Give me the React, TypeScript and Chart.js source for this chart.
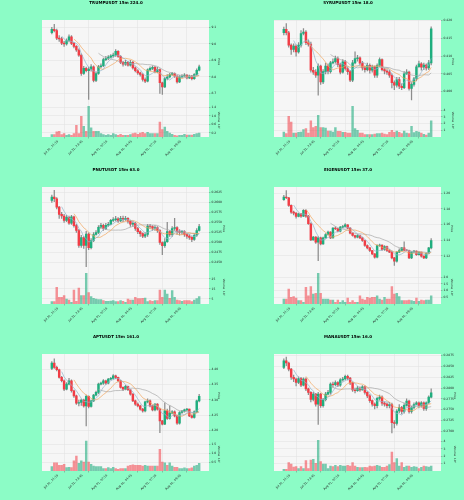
import React, { useEffect, useRef } from 'react';
import { Chart, registerables } from 'chart.js';
Chart.register(...registerables);

const FIG_BG = '#8cfcc6';
const PLOT_BG = '#f6f6f6';
const GRID = '#e0e0e0';
const UP = '#1fae7e';
const DOWN = '#f23c45';
const UP_VOL = 'rgba(31,174,126,0.6)';
const DOWN_VOL = 'rgba(242,60,69,0.55)';
const WICK = '#8c8c8c';
const MA_COLORS = ['#93b4cc', '#f2a65e', '#a8a8a8'];
const MA_PERIODS = [5, 10, 20];
const FONT = 'DejaVu Sans';

const TIME_LABELS = ['Jul 31, 21:15', 'Jul 31, 23:45', 'Aug 01, 02:15', 'Aug 01, 04:45', 'Aug 01, 07:15', 'Aug 01, 09:45'];
const TIME_TICK_INDEX = [0, 10, 20, 30, 40, 50];

// ---------------- TRUMP ----------------
const TRUMP_OPEN0 = 9.068;
const TRUMP_CLOSE = [9.088, 9.080, 9.035, 9.030, 9.005, 9.000, 9.020, 9.043, 9.003, 8.985,
  8.963, 8.932, 8.821, 8.852, 8.838, 8.848, 8.862, 8.780, 8.821, 8.862,
  8.868, 8.905, 8.912, 8.920, 8.928, 8.932, 8.955, 8.925, 8.888, 8.878,
  8.888, 8.872, 8.888, 8.855, 8.838, 8.825, 8.815, 8.785, 8.775, 8.843,
  8.852, 8.858, 8.832, 8.845, 8.765, 8.740, 8.790, 8.800, 8.815, 8.820,
  8.805, 8.770, 8.800, 8.806, 8.812, 8.795, 8.805, 8.790, 8.815, 8.841, 8.862];
const TRUMP_HIGH = [9.100, 9.118, 9.090, 9.050, 9.040, 9.015, 9.030, 9.055, 9.050, 9.010,
  8.990, 8.970, 8.940, 8.865, 8.860, 8.860, 8.875, 8.868, 8.830, 8.870,
  8.880, 8.915, 8.925, 8.930, 8.935, 8.945, 8.965, 8.960, 8.930, 8.895,
  8.900, 8.895, 8.900, 8.895, 8.862, 8.845, 8.830, 8.820, 8.795, 8.850,
  8.862, 8.868, 8.865, 8.858, 8.850, 8.770, 8.800, 8.815, 8.822, 8.828,
  8.825, 8.808, 8.808, 8.815, 8.820, 8.815, 8.812, 8.810, 8.820, 8.850, 8.872];
const TRUMP_LOW = [9.060, 9.072, 9.025, 9.015, 8.995, 8.985, 8.992, 9.012, 8.995, 8.975,
  8.955, 8.925, 8.810, 8.815, 8.830, 8.665, 8.835, 8.770, 8.772, 8.815,
  8.855, 8.862, 8.898, 8.905, 8.915, 8.920, 8.925, 8.918, 8.880, 8.865,
  8.870, 8.865, 8.866, 8.848, 8.830, 8.815, 8.805, 8.775, 8.765, 8.770,
  8.838, 8.845, 8.825, 8.825, 8.700, 8.695, 8.735, 8.782, 8.795, 8.810,
  8.798, 8.762, 8.765, 8.795, 8.803, 8.788, 8.790, 8.782, 8.785, 8.810, 8.836];
const TRUMP_VOL = [0.11, 0.11, 0.24, 0.27, 0.11, 0.16, 0.08, 0.11, 0.08, 0.16,
  0.55, 0.16, 0.98, 0.50, 0.27, 1.45, 0.43, 0.27, 0.27, 0.27,
  0.16, 0.11, 0.08, 0.11, 0.08, 0.16, 0.11, 0.08, 0.13, 0.08,
  0.08, 0.08, 0.11, 0.16, 0.19, 0.13, 0.19, 0.22, 0.16, 0.22,
  0.16, 0.16, 0.16, 0.16, 0.71, 0.35, 0.47, 0.27, 0.19, 0.13,
  0.08, 0.06, 0.08, 0.08, 0.13, 0.09, 0.09, 0.09, 0.13, 0.16, 0.19];
const TRUMP_PRICE_TICKS = [8.7, 8.8, 8.9, 9.0, 9.1];
const TRUMP_VOL_TICKS = [0.2, 0.4, 0.6, 0.8, 1.0, 1.2, 1.4];

// ---------------- SYRUP ----------------
const SYRUP_OPEN0 = 0.4166;
const SYRUP_CLOSE = [0.4176, 0.4166, 0.4131, 0.4119, 0.4128, 0.4112, 0.4131, 0.4164, 0.4168, 0.4138,
  0.4134, 0.4060, 0.4055, 0.4046, 0.4072, 0.4027, 0.4056, 0.4072, 0.4056, 0.4081,
  0.4084, 0.4093, 0.4076, 0.4055, 0.4084, 0.4065, 0.4056, 0.4032, 0.4081, 0.4093,
  0.4095, 0.4080, 0.4067, 0.4062, 0.4074, 0.4060, 0.4069, 0.4046, 0.4074, 0.4090,
  0.4062, 0.4058, 0.4055, 0.4046, 0.4025, 0.4018, 0.4034, 0.4015, 0.4011, 0.4050,
  0.4055, 0.4009, 0.4020, 0.4036, 0.4070, 0.4078, 0.4069, 0.4075, 0.4067, 0.4081, 0.4177];
const SYRUP_HIGH = [0.4182, 0.4192, 0.4170, 0.4135, 0.4135, 0.4132, 0.4138, 0.4172, 0.4178, 0.4172,
  0.4145, 0.4140, 0.4068, 0.4062, 0.4078, 0.4075, 0.4062, 0.4080, 0.4078, 0.4085,
  0.4092, 0.4100, 0.4098, 0.4080, 0.4090, 0.4088, 0.4070, 0.4060, 0.4088, 0.4112,
  0.4102, 0.4098, 0.4085, 0.4072, 0.4080, 0.4078, 0.4075, 0.4072, 0.4078, 0.4095,
  0.4092, 0.4066, 0.4062, 0.4060, 0.4050, 0.4030, 0.4040, 0.4040, 0.4022, 0.4056,
  0.4062, 0.4058, 0.4025, 0.4040, 0.4075, 0.4086, 0.4082, 0.4080, 0.4078, 0.4088, 0.4183];
const SYRUP_LOW = [0.4160, 0.4160, 0.4125, 0.4105, 0.4112, 0.4100, 0.4108, 0.4125, 0.4160, 0.4132,
  0.4128, 0.4055, 0.4048, 0.4040, 0.3990, 0.4020, 0.4022, 0.4050, 0.4050, 0.4052,
  0.4078, 0.4080, 0.4070, 0.4050, 0.4052, 0.4060, 0.4048, 0.4028, 0.4028, 0.4078,
  0.4086, 0.4074, 0.4060, 0.4055, 0.4058, 0.4052, 0.4055, 0.4040, 0.4040, 0.4070,
  0.4058, 0.4050, 0.4048, 0.4040, 0.4010, 0.4005, 0.4012, 0.4008, 0.4005, 0.4008,
  0.4048, 0.4004, 0.3976, 0.4015, 0.4030, 0.4068, 0.4060, 0.4062, 0.4060, 0.4062, 0.4075];
const SYRUP_VOL = [0.75, 0.5, 3.1, 2.25, 0.6, 0.6, 0.7, 0.75, 1.1, 1.25,
  0.6, 2.4, 1.4, 1.6, 3.25, 1.4, 1.4, 1.35, 0.9, 0.9,
  0.75, 1.4, 0.85, 0.85, 0.7, 0.7, 0.6, 0.6, 4.6, 1.25,
  1.0, 0.6, 0.6, 0.35, 0.35, 0.35, 0.35, 0.45, 0.5, 0.5,
  0.6, 0.45, 0.35, 0.7, 1.0, 0.7, 0.9, 0.7, 0.5, 0.9,
  0.6, 0.5, 1.6, 0.65, 0.85, 0.75, 0.6, 0.4, 0.3, 0.6, 2.4];
const SYRUP_PRICE_TICKS = [0.400, 0.405, 0.410, 0.415, 0.420];
const SYRUP_VOL_TICKS = [1, 2, 3, 4];

// ---------------- PNUT ----------------
const PNUT_OPEN0 = 0.2605;
const PNUT_CLOSE = [0.2613, 0.2609, 0.2588, 0.2570, 0.2566, 0.2555, 0.2563, 0.2548, 0.2564, 0.2542,
  0.2530, 0.2493, 0.2512, 0.2493, 0.2521, 0.2487, 0.2505, 0.2520, 0.2525, 0.2538,
  0.2543, 0.2535, 0.2543, 0.2545, 0.2555, 0.2557, 0.2559, 0.2554, 0.2560, 0.2557,
  0.2560, 0.2553, 0.2546, 0.2548, 0.2535, 0.2527, 0.2522, 0.2516, 0.2520, 0.2541,
  0.2540, 0.2536, 0.2537, 0.2530, 0.2500, 0.2492, 0.2502, 0.2527, 0.2520, 0.2535,
  0.2537, 0.2527, 0.2525, 0.2527, 0.2520, 0.2516, 0.2513, 0.2508, 0.2518, 0.2530, 0.2540];
const PNUT_HIGH = [0.2618, 0.2630, 0.2612, 0.2590, 0.2575, 0.2570, 0.2568, 0.2566, 0.2568, 0.2566,
  0.2545, 0.2533, 0.2518, 0.2515, 0.2528, 0.2524, 0.2510, 0.2525, 0.2530, 0.2542,
  0.2548, 0.2546, 0.2548, 0.2550, 0.2558, 0.2562, 0.2565, 0.2562, 0.2565, 0.2566,
  0.2565, 0.2562, 0.2556, 0.2552, 0.2550, 0.2538, 0.2530, 0.2524, 0.2525, 0.2545,
  0.2545, 0.2542, 0.2542, 0.2540, 0.2532, 0.2502, 0.2510, 0.2550, 0.2530, 0.2540,
  0.2560, 0.2540, 0.2532, 0.2530, 0.2530, 0.2522, 0.2520, 0.2515, 0.2522, 0.2535, 0.2545];
const PNUT_LOW = [0.2600, 0.2602, 0.2584, 0.2560, 0.2560, 0.2550, 0.2552, 0.2545, 0.2545, 0.2538,
  0.2525, 0.2488, 0.2488, 0.2485, 0.2440, 0.2482, 0.2484, 0.2502, 0.2518, 0.2522,
  0.2535, 0.2530, 0.2532, 0.2540, 0.2544, 0.2552, 0.2554, 0.2550, 0.2552, 0.2552,
  0.2555, 0.2548, 0.2540, 0.2540, 0.2530, 0.2522, 0.2515, 0.2512, 0.2512, 0.2515,
  0.2535, 0.2530, 0.2530, 0.2525, 0.2495, 0.2470, 0.2488, 0.2500, 0.2515, 0.2515,
  0.2530, 0.2520, 0.2518, 0.2520, 0.2515, 0.2510, 0.2508, 0.2502, 0.2505, 0.2515, 0.2528];
const PNUT_VOL = [2.3, 2.3, 16.7, 6.7, 6.7, 8.3, 5.0, 4.0, 1.7, 14.0,
  2.7, 16.0, 8.3, 8.3, 30.7, 11.3, 7.3, 5.7, 5.0, 4.3,
  4.3, 3.3, 2.7, 2.7, 3.0, 3.3, 2.3, 2.3, 3.3, 2.7,
  1.7, 5.0, 4.0, 4.0, 6.7, 5.3, 5.3, 5.7, 6.0, 2.3,
  3.3, 2.7, 3.3, 3.3, 14.0, 6.7, 14.0, 10.0, 5.7, 13.3,
  6.7, 4.0, 3.3, 2.7, 3.3, 3.3, 3.3, 2.3, 4.0, 5.3, 7.3];
const PNUT_PRICE_TICKS = [0.2450, 0.2475, 0.2500, 0.2525, 0.2550, 0.2575, 0.2600, 0.2625];
const PNUT_VOL_TICKS = [5, 10, 15, 20, 25, 30];

// ---------------- EIGEN ----------------
const EIGEN_OPEN0 = 1.1915;
const EIGEN_CLOSE = [1.1949, 1.1940, 1.1843, 1.1757, 1.1745, 1.1702, 1.1736, 1.1706, 1.1779, 1.1706,
  1.1609, 1.1404, 1.1438, 1.1374, 1.1430, 1.1353, 1.1430, 1.1472, 1.1502, 1.1430,
  1.1553, 1.1545, 1.1515, 1.1566, 1.1574, 1.1596, 1.1553, 1.1490, 1.1460, 1.1438,
  1.1460, 1.1430, 1.1396, 1.1332, 1.1302, 1.1268, 1.1225, 1.1183, 1.1332, 1.1336,
  1.1281, 1.1319, 1.1268, 1.1247, 1.1174, 1.1132, 1.1247, 1.1268, 1.1302, 1.1274,
  1.1270, 1.1174, 1.1247, 1.1260, 1.1217, 1.1247, 1.1196, 1.1174, 1.1234, 1.1302, 1.1396];
const EIGEN_HIGH = [1.1970, 1.2030, 1.1945, 1.1850, 1.1770, 1.1750, 1.1745, 1.1740, 1.1790, 1.1790,
  1.1715, 1.1620, 1.1450, 1.1445, 1.1445, 1.1440, 1.1440, 1.1485, 1.1515, 1.1510,
  1.1560, 1.1570, 1.1550, 1.1575, 1.1590, 1.1610, 1.1600, 1.1560, 1.1495, 1.1465,
  1.1470, 1.1465, 1.1440, 1.1400, 1.1340, 1.1310, 1.1270, 1.1230, 1.1340, 1.1350,
  1.1340, 1.1330, 1.1325, 1.1280, 1.1260, 1.1180, 1.1255, 1.1290, 1.1310, 1.1380,
  1.1285, 1.1275, 1.1255, 1.1270, 1.1265, 1.1255, 1.1250, 1.1200, 1.1240, 1.1310, 1.1420];
const EIGEN_LOW = [1.1905, 1.1930, 1.1830, 1.1740, 1.1720, 1.1680, 1.1695, 1.1690, 1.1700, 1.1690,
  1.1600, 1.1395, 1.1400, 1.1360, 1.1140, 1.1340, 1.1345, 1.1425, 1.1465, 1.1420,
  1.1425, 1.1535, 1.1505, 1.1505, 1.1560, 1.1570, 1.1545, 1.1480, 1.1450, 1.1425,
  1.1430, 1.1420, 1.1385, 1.1320, 1.1290, 1.1255, 1.1215, 1.1170, 1.1175, 1.1320,
  1.1270, 1.1270, 1.1255, 1.1240, 1.1160, 1.1080, 1.1120, 1.1240, 1.1260, 1.1265,
  1.1262, 1.1165, 1.1165, 1.1240, 1.1205, 1.1210, 1.1185, 1.1165, 1.1165, 1.1225, 1.1290];
const EIGEN_VOL = [0.37, 0.37, 1.12, 0.50, 0.55, 0.45, 0.25, 0.25, 0.12, 1.25,
  0.62, 1.30, 0.75, 0.80, 2.30, 0.80, 0.37, 0.37, 0.37, 0.30,
  0.30, 0.12, 0.30, 0.12, 0.25, 0.12, 0.45, 0.12, 0.25, 0.12,
  0.12, 0.62, 0.37, 0.30, 0.50, 0.45, 0.50, 0.50, 0.62, 0.37,
  0.30, 0.50, 0.37, 0.37, 1.30, 0.75, 0.80, 0.55, 0.25, 0.25,
  0.25, 0.30, 0.25, 0.20, 0.45, 0.20, 0.30, 0.25, 0.30, 0.30, 0.62];
const EIGEN_PRICE_TICKS = [1.12, 1.14, 1.16, 1.18, 1.20];
const EIGEN_VOL_TICKS = [0.5, 1.0, 1.5, 2.0];

// ---------------- APT ----------------
const APT_OPEN0 = 4.4022;
const APT_CLOSE = [4.4196, 4.4054, 4.3978, 4.3728, 4.3620, 4.3348, 4.3511, 4.3620, 4.3294, 4.3130,
  4.2891, 4.2913, 4.2990, 4.2804, 4.3109, 4.2783, 4.2967, 4.3152, 4.3239, 4.3511,
  4.3543, 4.3620, 4.3543, 4.3674, 4.3696, 4.3783, 4.3728, 4.3620, 4.3402, 4.3348,
  4.3435, 4.3326, 4.3185, 4.2967, 4.2859, 4.2804, 4.2696, 4.2641, 4.2935, 4.2967,
  4.2804, 4.2674, 4.2859, 4.2696, 4.2315, 4.2207, 4.2641, 4.2391, 4.2565, 4.2609,
  4.2478, 4.2239, 4.2587, 4.2630, 4.2674, 4.2696, 4.2478, 4.2424, 4.2609, 4.2967, 4.3109];
const APT_HIGH = [4.4240, 4.4330, 4.4100, 4.4000, 4.3760, 4.3650, 4.3560, 4.3700, 4.3650, 4.3320,
  4.3150, 4.2990, 4.3020, 4.3020, 4.3150, 4.3130, 4.2990, 4.3180, 4.3280, 4.3540,
  4.3580, 4.3660, 4.3640, 4.3700, 4.3730, 4.3820, 4.3800, 4.3740, 4.3640, 4.3420,
  4.3470, 4.3450, 4.3340, 4.3200, 4.2990, 4.2900, 4.2830, 4.2720, 4.2960, 4.3030,
  4.3000, 4.2830, 4.2880, 4.2880, 4.2720, 4.2330, 4.2900, 4.2700, 4.2800, 4.2650,
  4.2640, 4.2500, 4.2620, 4.2660, 4.2700, 4.2720, 4.2700, 4.2510, 4.2640, 4.2990, 4.3180];
const APT_LOW = [4.3980, 4.4020, 4.3940, 4.3700, 4.3580, 4.3300, 4.3320, 4.3480, 4.3250, 4.3080,
  4.2850, 4.2800, 4.2820, 4.2760, 4.2150, 4.2740, 4.2760, 4.2940, 4.3130, 4.3200,
  4.3480, 4.3500, 4.3500, 4.3520, 4.3650, 4.3670, 4.3690, 4.3580, 4.3380, 4.3300,
  4.3320, 4.3300, 4.3150, 4.2940, 4.2820, 4.2770, 4.2660, 4.2600, 4.2610, 4.2900,
  4.2770, 4.2640, 4.2640, 4.2660, 4.1935, 4.2180, 4.2190, 4.2360, 4.2370, 4.2540,
  4.2440, 4.2200, 4.2210, 4.2560, 4.2600, 4.2640, 4.2450, 4.2400, 4.2400, 4.2580, 4.2930];
const APT_VOL = [0.24, 0.46, 0.46, 0.31, 0.31, 0.37, 0.19, 0.20, 0.19, 0.57,
  0.83, 0.43, 0.56, 0.50, 1.67, 0.50, 0.37, 0.28, 0.24, 0.24,
  0.24, 0.13, 0.13, 0.19, 0.13, 0.20, 0.13, 0.09, 0.13, 0.13,
  0.13, 0.28, 0.31, 0.35, 0.31, 0.31, 0.31, 0.28, 0.31, 0.28,
  0.28, 0.28, 0.28, 0.28, 1.20, 0.50, 0.46, 0.31, 0.46, 0.28,
  0.20, 0.20, 0.13, 0.13, 0.17, 0.13, 0.13, 0.17, 0.28, 0.31, 0.43];
const APT_PRICE_TICKS = [4.20, 4.25, 4.30, 4.35, 4.40];
const APT_VOL_TICKS = [0.5, 1.0, 1.5];

// ---------------- MANA ----------------
const MANA_OPEN0 = 0.2848;
const MANA_CLOSE = [0.2863, 0.2858, 0.2844, 0.2825, 0.2821, 0.2813, 0.2822, 0.2807, 0.2821, 0.2798,
  0.2790, 0.2774, 0.2786, 0.2763, 0.2786, 0.2759, 0.2773, 0.2786, 0.2790, 0.2809,
  0.2808, 0.2813, 0.2807, 0.2819, 0.2821, 0.2827, 0.2823, 0.2812, 0.2796, 0.2794,
  0.2800, 0.2796, 0.2803, 0.2790, 0.2782, 0.2771, 0.2763, 0.2759, 0.2776, 0.2779,
  0.2765, 0.2763, 0.2759, 0.2762, 0.2720, 0.2718, 0.2747, 0.2755, 0.2746, 0.2760,
  0.2770, 0.2746, 0.2755, 0.2762, 0.2766, 0.2759, 0.2766, 0.2753, 0.2766, 0.2779, 0.2789];
const MANA_HIGH = [0.2868, 0.2872, 0.2860, 0.2846, 0.2830, 0.2823, 0.2826, 0.2825, 0.2824, 0.2824,
  0.2800, 0.2792, 0.2790, 0.2788, 0.2790, 0.2788, 0.2776, 0.2790, 0.2795, 0.2812,
  0.2814, 0.2817, 0.2815, 0.2822, 0.2825, 0.2830, 0.2830, 0.2825, 0.2814, 0.2800,
  0.2804, 0.2803, 0.2806, 0.2805, 0.2792, 0.2785, 0.2773, 0.2766, 0.2779, 0.2784,
  0.2782, 0.2768, 0.2766, 0.2767, 0.2765, 0.2725, 0.2750, 0.2762, 0.2758, 0.2764,
  0.2775, 0.2772, 0.2758, 0.2766, 0.2769, 0.2768, 0.2769, 0.2768, 0.2768, 0.2782, 0.2798];
const MANA_LOW = [0.2845, 0.2852, 0.2840, 0.2820, 0.2815, 0.2805, 0.2810, 0.2803, 0.2805, 0.2794,
  0.2785, 0.2768, 0.2770, 0.2758, 0.2716, 0.2755, 0.2756, 0.2770, 0.2784, 0.2786,
  0.2802, 0.2805, 0.2803, 0.2804, 0.2816, 0.2819, 0.2819, 0.2808, 0.2792, 0.2789,
  0.2792, 0.2792, 0.2795, 0.2786, 0.2778, 0.2767, 0.2758, 0.2752, 0.2754, 0.2772,
  0.2760, 0.2758, 0.2754, 0.2754, 0.2696, 0.2708, 0.2714, 0.2743, 0.2740, 0.2742,
  0.2758, 0.2742, 0.2742, 0.2752, 0.2762, 0.2754, 0.2756, 0.2748, 0.2748, 0.2764, 0.2777];
const MANA_VOL = [0.23, 0.23, 1.14, 0.95, 0.55, 0.59, 0.32, 0.59, 0.32, 1.41,
  0.32, 1.50, 1.59, 1.05, 4.18, 1.27, 0.95, 0.95, 0.32, 0.68,
  0.59, 0.77, 0.59, 0.77, 0.68, 0.68, 0.77, 0.68, 1.14, 0.68,
  0.50, 0.45, 0.45, 0.50, 0.45, 0.68, 0.59, 0.68, 0.77, 0.68,
  0.50, 0.50, 0.68, 0.86, 2.59, 1.14, 1.68, 0.68, 1.14, 0.50,
  0.68, 0.68, 0.50, 0.59, 0.55, 0.32, 0.50, 0.68, 0.59, 0.55, 0.68];
const MANA_PRICE_TICKS = [0.2700, 0.2725, 0.2750, 0.2775, 0.2800, 0.2825, 0.2850, 0.2875];
const MANA_VOL_TICKS = [1, 2, 3, 4];

type Panel = {
  title: string; open0: number; close: number[]; high: number[]; low: number[]; vol: number[];
  priceTicks: number[]; priceDec: number; priceMin: number; priceMax: number;
  volTicks: number[]; volDec: number; volMax: number; volExp: string; titleGap: number;
};

const PANELS: Panel[] = [
  { title: 'TRUMPUSDT 15m 224.0', open0: TRUMP_OPEN0, close: TRUMP_CLOSE, high: TRUMP_HIGH, low: TRUMP_LOW, vol: TRUMP_VOL,
    priceTicks: TRUMP_PRICE_TICKS, priceDec: 1, priceMin: 8.6394, priceMax: 9.1444,
    volTicks: TRUMP_VOL_TICKS, volDec: 1, volMax: 1.58, volExp: '10⁵', titleGap: 11.5 },
  { title: 'SYRUPUSDT 15m 18.0', open0: SYRUP_OPEN0, close: SYRUP_CLOSE, high: SYRUP_HIGH, low: SYRUP_LOW, vol: SYRUP_VOL,
    priceTicks: SYRUP_PRICE_TICKS, priceDec: 3, priceMin: 0.3966, priceMax: 0.4202,
    volTicks: SYRUP_VOL_TICKS, volDec: 0, volMax: 5.0, volExp: '10⁶', titleGap: 10 },
  { title: 'PNUTUSDT 15m 63.0', open0: PNUT_OPEN0, close: PNUT_CLOSE, high: PNUT_HIGH, low: PNUT_LOW, vol: PNUT_VOL,
    priceTicks: PNUT_PRICE_TICKS, priceDec: 4, priceMin: 0.24301, priceMax: 0.26383,
    volTicks: PNUT_VOL_TICKS, volDec: 0, volMax: 33.4, volExp: '10⁵', titleGap: 7 },
  { title: 'EIGENUSDT 15m 37.0', open0: EIGEN_OPEN0, close: EIGEN_CLOSE, high: EIGEN_HIGH, low: EIGEN_LOW, vol: EIGEN_VOL,
    priceTicks: EIGEN_PRICE_TICKS, priceDec: 2, priceMin: 1.1013, priceMax: 1.2077,
    volTicks: EIGEN_VOL_TICKS, volDec: 1, volMax: 2.5, volExp: '10⁶', titleGap: 11 },
  { title: 'APTUSDT 15m 161.0', open0: APT_OPEN0, close: APT_CLOSE, high: APT_HIGH, low: APT_LOW, vol: APT_VOL,
    priceTicks: APT_PRICE_TICKS, priceDec: 2, priceMin: 4.1772, priceMax: 4.4489,
    volTicks: APT_VOL_TICKS, volDec: 1, volMax: 1.86, volExp: '10⁵', titleGap: 11.5 },
  { title: 'MANAUSDT 15m 16.0', open0: MANA_OPEN0, close: MANA_CLOSE, high: MANA_HIGH, low: MANA_LOW, vol: MANA_VOL,
    priceTicks: MANA_PRICE_TICKS, priceDec: 4, priceMin: 0.26854, priceMax: 0.28789,
    volTicks: MANA_VOL_TICKS, volDec: 0, volMax: 4.55, volExp: '10⁶', titleGap: 7.5 },
];

function movingAverage(values: number[], period: number) {
  return values.map((_, i) => {
    if (i < period - 1) return null;
    let s = 0;
    for (let k = i - period + 1; k <= i; k++) s += values[k];
    return s / period;
  });
}

const plotBg = {
  id: 'plotBg',
  beforeDraw(chart: any) {
    const { ctx, chartArea: a } = chart;
    ctx.save();
    ctx.fillStyle = PLOT_BG;
    ctx.fillRect(a.left, a.top, a.right - a.left, a.bottom - a.top);
    ctx.restore();
  },
};

const tickFont = { size: 3, family: FONT };
const axisTitleFont = { size: 2.8, family: FONT };

function CandlePanel({ p }: { p: Panel }) {
  const ref = useRef<HTMLCanvasElement>(null);
  useEffect(() => {
    const n = p.close.length;
    const opens = [p.open0, ...p.close.slice(0, n - 1)];
    const idx = p.close.map((_, i) => i);
    const up = idx.map(i => p.close[i] >= opens[i]);
    const maSets = MA_PERIODS.map((per, k) => {
      const ma = movingAverage(p.close, per);
      return {
        type: 'line' as const,
        data: idx.map(i => ({ x: i, y: ma[i] })),
        yAxisID: 'y',
        borderColor: MA_COLORS[k],
        borderWidth: 0.7,
        pointRadius: 0,
        tension: 0,
        order: 1,
      };
    });
    const chart = new Chart(ref.current as HTMLCanvasElement, {
      type: 'bar',
      data: {
        datasets: [
          {
            type: 'bar', data: idx.map(i => ({ x: i, y: [p.low[i], p.high[i]] })) as any,
            yAxisID: 'y', backgroundColor: WICK, barThickness: 0.6, grouped: false, order: 3,
          },
          {
            type: 'bar', data: idx.map(i => ({ x: i, y: [opens[i], p.close[i]] })) as any,
            yAxisID: 'y', backgroundColor: up.map(u => (u ? UP : DOWN)), barThickness: 1.8, grouped: false, order: 2,
          },
          ...maSets,
          {
            type: 'bar', data: idx.map(i => ({ x: i, y: p.vol[i] })) as any,
            yAxisID: 'yv', backgroundColor: up.map(u => (u ? UP_VOL : DOWN_VOL)), barThickness: 1.8, grouped: false, order: 2,
          },
        ] as any,
      },
      options: {
        responsive: false,
        animation: false,
        events: [],
        layout: { padding: 0 },
        plugins: {
          legend: { display: false },
          tooltip: { enabled: false },
          title: {
            display: true, text: p.title, color: '#000',
            font: { size: 4, weight: 'bold', family: FONT },
            padding: { top: 0.8, bottom: 14.4 },
          },
        },
        scales: {
          x: {
            type: 'linear', min: -4, max: 64, offset: false,
            afterBuildTicks: (s: any) => { s.ticks = TIME_TICK_INDEX.map(v => ({ value: v })); },
            ticks: {
              callback: (v: any) => { const j = TIME_TICK_INDEX.indexOf(Number(v)); return j >= 0 ? TIME_LABELS[j] : ''; },
              autoSkip: false, maxRotation: 45, minRotation: 45, font: tickFont, color: '#222', padding: 1, labelOffset: 6,
            },
            grid: { color: GRID, lineWidth: 0.5, tickLength: 1.5, tickColor: '#666', tickWidth: 0.4 },
            border: { display: false },
            afterFit: (s: any) => { s.height = 30; },
          },
          yl: {
            type: 'linear', position: 'left', display: true,
            ticks: { display: false }, grid: { display: false }, border: { display: false },
            afterFit: (s: any) => { s.width = 42; },
          },
          y: {
            type: 'linear', position: 'right', stack: 'main', stackWeight: 5, weight: 1,
            min: p.priceMin, max: p.priceMax,
            afterBuildTicks: (s: any) => { s.ticks = p.priceTicks.map(v => ({ value: v })); },
            ticks: { callback: (v: any) => Number(v).toFixed(p.priceDec), font: tickFont, color: '#222', padding: 1 },
            grid: { color: GRID, lineWidth: 0.5, tickLength: 1.5, tickColor: '#666', tickWidth: 0.4 },
            border: { display: false },
            title: { display: true, text: 'Price', font: axisTitleFont, color: '#222', padding: { top: p.titleGap, bottom: 0 } },
            afterFit: (s: any) => { s.width = 23; },
          },
          yv: {
            type: 'linear', position: 'right', stack: 'main', stackWeight: 2, weight: 2,
            min: 0, max: p.volMax,
            afterBuildTicks: (s: any) => { s.ticks = p.volTicks.map(v => ({ value: v })); },
            ticks: { callback: (v: any) => Number(v).toFixed(p.volDec), font: tickFont, color: '#222', padding: 1 },
            grid: { color: GRID, lineWidth: 0.5, tickLength: 1.5, tickColor: '#666', tickWidth: 0.4 },
            border: { display: false },
            title: { display: true, text: 'Volume  ' + p.volExp, font: axisTitleFont, color: '#222', padding: { top: p.titleGap, bottom: 0 } },
            afterFit: (s: any) => { s.width = 23; },
          },
        },
      } as any,
      plugins: [plotBg],
    });
    return () => chart.destroy();
  }, [p]);
  return <canvas ref={ref} width={232} height={167} style={{ display: 'block', width: 232, height: 167 }} />;
}

export default function App() {
  useEffect(() => {
    document.body.style.background = FIG_BG;
  }, []);
  return (
    <div style={{ position: 'absolute', left: 0, top: 0, width: 464, height: 500, background: FIG_BG, overflow: 'hidden' }}>
      {PANELS.map((p, k) => (
        <div key={p.title} style={{ position: 'absolute', left: (k % 2) * 232, top: Math.floor(k / 2) * 167, width: 232, height: 167 }}>
          <CandlePanel p={p} />
        </div>
      ))}
    </div>
  );
}
